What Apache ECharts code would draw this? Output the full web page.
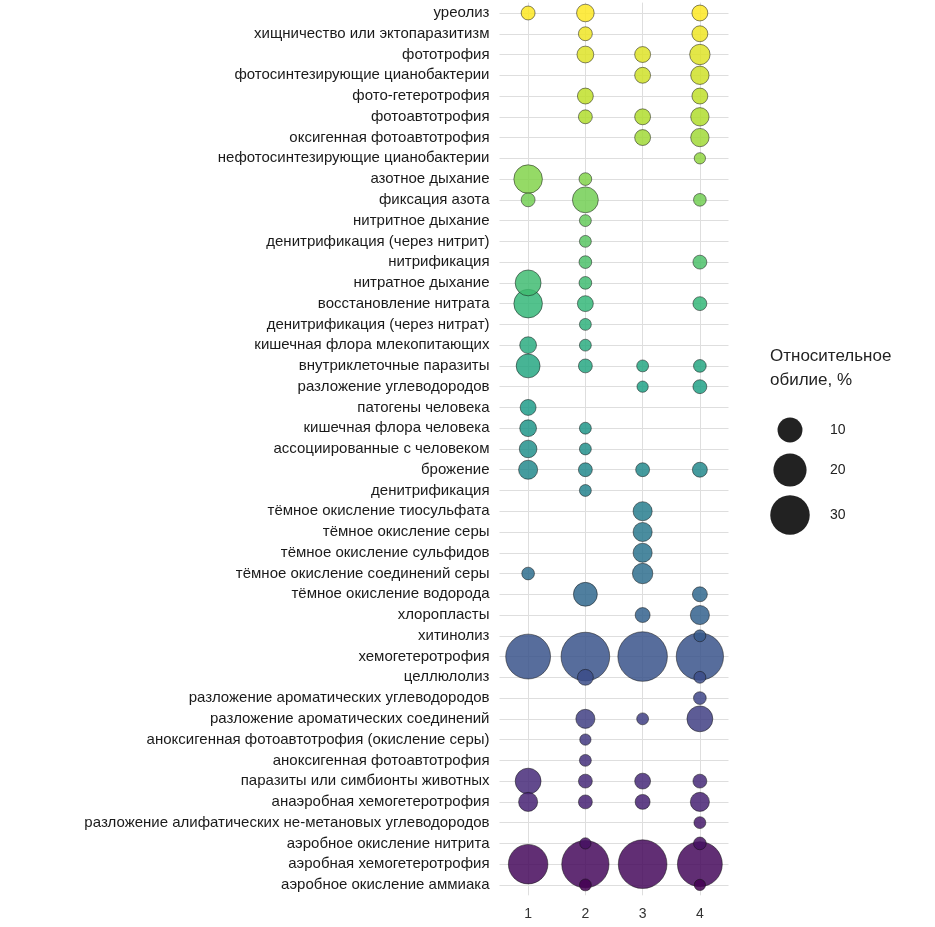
<!DOCTYPE html>
<html>
<head>
<meta charset="utf-8">
<title></title>
<style>
  body { margin: 0; background: #fff; }
  #main { width: 935px; height: 927px; }
</style>
</head>
<body>
<div id="main"></div>
<script src="https://cdn.jsdelivr.net/npm/echarts@6/dist/echarts.min.js"></script>
<script>
// categories top -> bottom
var categories = [
  'уреолиз', 'хищничество или эктопаразитизм', 'фототрофия', 'фотосинтезирующие цианобактерии',
  'фото-гетеротрофия', 'фотоавтотрофия', 'оксигенная фотоавтотрофия', 'нефотосинтезирующие цианобактерии',
  'азотное дыхание', 'фиксация азота', 'нитритное дыхание', 'денитрификация (через нитрит)',
  'нитрификация', 'нитратное дыхание', 'восстановление нитрата', 'денитрификация (через нитрат)',
  'кишечная флора млекопитающих', 'внутриклеточные паразиты', 'разложение углеводородов', 'патогены человека',
  'кишечная флора человека', 'ассоциированные с человеком', 'брожение', 'денитрификация',
  'тёмное окисление тиосульфата', 'тёмное окисление серы', 'тёмное окисление сульфидов', 'тёмное окисление соединений серы',
  'тёмное окисление водорода', 'хлоропласты', 'хитинолиз', 'хемогетеротрофия',
  'целлюлолиз', 'разложение ароматических углеводородов', 'разложение ароматических соединений',
  'аноксигенная фотоавтотрофия (окисление серы)', 'аноксигенная фотоавтотрофия',
  'паразиты или симбионты животных', 'анаэробная хемогетеротрофия',
  'разложение алифатических не-метановых углеводородов', 'аэробное окисление нитрита',
  'аэробная хемогетеротрофия', 'аэробное окисление аммиака'
];
var samples = ['1', '2', '3', '4'];
// abundance % per sample (null = absent), same order as categories
var sample1 = [2,null,null,null,null,null,null,null,14,2,null,null,null,11,14,null,3.5,9,null,3,3.5,4,5,null,null,null,null,1.5,null,null,null,40,null,null,null,null,null,11,5,null,null,30,null];
var sample2 = [4,2,3.5,null,3,2,null,null,1.5,11,1.2,1.2,1.5,1.5,3,1.2,1.2,2,null,null,1.2,1.2,2,1.2,null,null,null,null,9,null,null,48,3,null,5,1,1.2,2,2,null,1,45,1.2];
var sample3 = [null,null,3,3,null,3,3,null,null,null,null,null,null,null,null,null,null,1.2,1,null,null,null,2,null,5,5,5,6,null,2.5,null,50,null,null,1.2,null,null,3,2.5,null,null,48,null];
var sample4 = [3,3,6,4.5,3,4.5,4.5,1,null,1.5,null,null,2,null,2,null,null,1.5,2,null,null,null,2.5,null,null,null,null,null,2.5,5,1.2,45,1.2,1.5,11,null,null,2,5,1.2,1.5,40,1];
var legendValues = [10, 20, 30];

function sizeOf(v) { return 5 + 6.3 * Math.sqrt(v); }

var viridis = ['#440154','#482878','#3e4989','#31688e','#26828e','#1f9e89','#35b779','#6ece58','#b5de2b','#fde725'];
function viridisAt(t) {
  var p = t * (viridis.length - 1), i = Math.min(Math.floor(p), viridis.length - 2), f = p - i;
  function h(c, k) { return parseInt(c.substr(1 + 2 * k, 2), 16); }
  var a = viridis[i], b = viridis[i + 1], rgb = [];
  for (var k = 0; k < 3; k++) rgb.push(Math.round(h(a, k) + (h(b, k) - h(a, k)) * f));
  return 'rgb(' + rgb.join(',') + ')';
}

var n = categories.length;
var points = [];
[sample1, sample2, sample3, sample4].forEach(function (arr, si) {
  arr.forEach(function (v, ci) {
    if (v == null) return;
    var y = n - ci; // top category gets highest value
    points.push({ value: [si + 1, y, v], itemStyle: { color: viridisAt((y - 1) / (n - 1)) } });
  });
});
points.sort(function (a, b) { return b.value[2] - a.value[2]; });

function gridColors(count) {
  var c = [];
  for (var i = 0; i < count; i++) c.push(i % 2 === 0 ? 'rgba(0,0,0,0)' : '#dedede');
  return c;
}

var rowH = 20.76;
var chart = echarts.init(document.getElementById('main'));
var graphics = [{
  type: 'text', left: 770, top: 344,
  style: { text: 'Относительное\nобилие, %', font: '17px "Liberation Sans", Arial', fill: '#222', lineHeight: 24 }
}];
var ly = [430, 470, 515];
legendValues.forEach(function (v, i) {
  graphics.push({ type: 'circle', shape: { cx: 790, cy: ly[i], r: sizeOf(v) / 2 }, style: { fill: '#222' } });
  graphics.push({ type: 'text', x: 830, y: ly[i], style: { text: String(v), font: '14px "Liberation Sans", Arial', fill: '#222', verticalAlign: 'middle' } });
});

chart.setOption({
  animation: false,
  grid: { left: 499.5, width: 229, top: 13 - rowH / 2, height: rowH * n },
  xAxis: {
    type: 'value', min: 0.5, max: 4.5, interval: 0.5,
    axisLine: { show: false }, axisTick: { show: false },
    axisLabel: { color: '#333', fontSize: 14, margin: 12, fontFamily: 'Liberation Sans',
      formatter: function (v) { return Number.isInteger(v) ? samples[v - 1] : ''; } },
    splitLine: { lineStyle: { color: gridColors(9), width: 1 } }
  },
  yAxis: {
    type: 'value', min: 0.5, max: n + 0.5, interval: 0.5,
    axisLine: { show: false }, axisTick: { show: false },
    axisLabel: { color: '#1a1a1a', fontSize: 15, margin: 10, fontFamily: 'Liberation Sans',
      formatter: function (v) { return Number.isInteger(v) ? categories[n - v] : ''; } },
    splitLine: { lineStyle: { color: gridColors(2 * n + 1), width: 1 } }
  },
  series: [{
    type: 'scatter',
    data: points,
    symbolSize: function (val) { return sizeOf(val[2]); },
    itemStyle: { opacity: 0.85, borderColor: '#111', borderWidth: 0.6 }
  }],
  graphic: graphics
});
</script>
</body>
</html>
